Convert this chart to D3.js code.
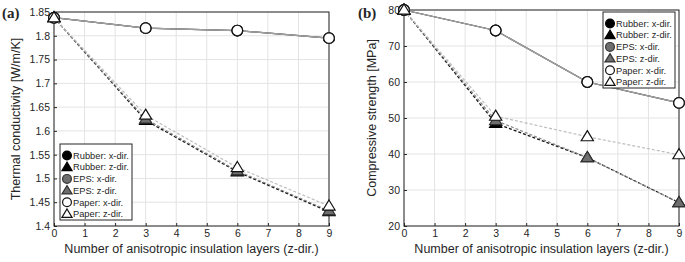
<!DOCTYPE html>
<html><head><meta charset="utf-8">
<script src="https://cdn.jsdelivr.net/npm/d3@7"></script>
<style>body{margin:0;background:#fff}svg{display:block}text{font-family:"Liberation Sans",Arial,sans-serif;fill:#262626}</style>
</head><body><svg id="c" width="685" height="262"></svg>
<script>
const layers = [0, 3, 6, 9];
const seriesNames = ["Rubber: x-dir.", "Rubber: z-dir.", "EPS: x-dir.", "EPS: z-dir.", "Paper: x-dir.", "Paper: z-dir."];
// (a) thermal conductivity [W/m/K]
const tcRubberX = [1.838, 1.816, 1.811, 1.795];
const tcRubberZ = [1.838, 1.622, 1.514, 1.430];
const tcEpsX    = [1.838, 1.816, 1.811, 1.795];
const tcEpsZ    = [1.838, 1.625, 1.516, 1.432];
const tcPaperX  = [1.838, 1.816, 1.811, 1.795];
const tcPaperZ  = [1.838, 1.633, 1.523, 1.442];
// (b) compressive strength [MPa]
const csRubberX = [80, 74.3, 60, 54.2];
const csRubberZ = [80, 48.5, 39, 26.5];
const csEpsX    = [80, 74.3, 60, 54.2];
const csEpsZ    = [80, 49.3, 39, 26.5];
const csPaperX  = [80, 74.3, 60, 54.2];
const csPaperZ  = [80, 50.5, 44.8, 39.8];
const xTicks = [0,1,2,3,4,5,6,7,8,9];
const tcTicks = [1.4,1.45,1.5,1.55,1.6,1.65,1.7,1.75,1.8,1.85];
const csTicks = [20,30,40,50,60,70,80];

const styles = [
  {shape:"circle", fill:"#000", stroke:"#000", line:"#444", dash:null},
  {shape:"tri", fill:"#000", stroke:"#000", line:"#111", dash:"3,2"},
  {shape:"circle", fill:"#6e6e6e", stroke:"#333", line:"#777", dash:null},
  {shape:"tri", fill:"#6e6e6e", stroke:"#333", line:"#888", dash:"3,2"},
  {shape:"circle", fill:"#fff", stroke:"#111", line:"#a0a0a0", dash:null},
  {shape:"tri", fill:"#fff", stroke:"#111", line:"#bdbdbd", dash:"3,2"}
];
const svg = d3.select("#c");
const axCol = "#262626";

function marker(g, shape, cx, cy, st, r){
  if(shape==="circle"){
    g.append("circle").attr("cx",cx).attr("cy",cy).attr("r",r)
     .attr("fill",st.fill).attr("stroke",st.stroke).attr("stroke-width",1.2);
  } else {
    const h=r*1.9, w=r*1.15;
    g.append("path").attr("d",`M${cx},${cy-h*0.6}L${cx+w},${cy+h*0.4}L${cx-w},${cy+h*0.4}Z`)
     .attr("fill",st.fill).attr("stroke",st.stroke).attr("stroke-width",1.2);
  }
}

function panel(opt){
  const g = svg.append("g");
  const x = d3.scaleLinear().domain([0,9]).range([opt.x0, opt.x1]);
  const y = d3.scaleLinear().domain(opt.yDom).range([opt.yb, opt.yt]);
  // grid
  g.append("g").selectAll("line").data(xTicks).join("line")
    .attr("x1",d=>x(d)).attr("x2",d=>x(d)).attr("y1",opt.yt).attr("y2",opt.yb)
    .attr("stroke","#e3e3e3").attr("stroke-width",1);
  g.append("g").selectAll("line").data(opt.yTicks).join("line")
    .attr("y1",d=>y(d)).attr("y2",d=>y(d)).attr("x1",opt.x0).attr("x2",opt.x1)
    .attr("stroke","#e3e3e3").attr("stroke-width",1);
  // axes
  const ax = d3.axisBottom(x).tickValues(xTicks).tickSize(-3).tickPadding(5).tickFormat(d3.format("d"));
  const xa = g.append("g").attr("transform",`translate(0,${opt.yb})`).call(ax);
  const ay = d3.axisLeft(y).tickValues(opt.yTicks).tickSize(-3).tickPadding(4).tickFormat(opt.fmt);
  const ya = g.append("g").attr("transform",`translate(${opt.x0},0)`).call(ay);
  [xa,ya].forEach(a=>{
    a.select(".domain").remove();
    a.selectAll("line").attr("stroke",axCol);
    a.selectAll("text").attr("font-size","10.5px").attr("fill",axCol).style("font-family","Liberation Sans, Arial, sans-serif");
  });
  xa.selectAll("text").attr("dy","0.6em");
  g.append("rect").attr("x",opt.x0).attr("y",opt.yt).attr("width",opt.x1-opt.x0).attr("height",opt.yb-opt.yt)
    .attr("fill","none").attr("stroke",axCol).attr("stroke-width",1);
  // lines
  const line = d3.line().x((d,i)=>x(layers[i])).y(d=>y(d));
  opt.series.forEach((s,i)=>{
    g.append("path").attr("d",line(s)).attr("fill","none").attr("stroke",styles[i].line)
      .attr("stroke-width",1.2).attr("stroke-dasharray",styles[i].dash);
  });
  opt.series.forEach((s,i)=>{
    s.forEach((v,j)=>marker(g, styles[i].shape, x(layers[j]), y(v), styles[i], 5.3));
  });
  // titles
  g.append("text").attr("x",(opt.x0+opt.x1)/2).attr("y",252.5).attr("text-anchor","middle")
    .attr("font-size","12.5px").text("Number of anisotropic insulation layers (z-dir.)");
  g.append("text").attr("transform",`translate(${opt.ytx},${(opt.yt+opt.yb)/2}) rotate(-90)`)
    .attr("text-anchor","middle").attr("font-size","12.5px").text(opt.ytitle);
  g.append("text").attr("x",opt.lx).attr("y",18).attr("font-size","15px").attr("font-weight","bold")
    .style("font-family","Liberation Serif, Times New Roman, serif").text(opt.label);
  // legend
  const lg = g.append("g");
  lg.append("rect").attr("x",opt.legX).attr("y",opt.legY).attr("width",72).attr("height",76)
    .attr("fill","#fff").attr("stroke",axCol).attr("stroke-width",1);
  seriesNames.forEach((n,i)=>{
    const cy = opt.legY + 11.5 + i*11.7;
    marker(lg, styles[i].shape, opt.legX+7, cy, styles[i], 4.4);
    lg.append("text").attr("x",opt.legX+13).attr("y",cy).attr("dy","0.35em")
      .attr("font-size","9.3px").text(n);
  });
}

panel({x0:54, x1:329, yt:12, yb:226, yDom:[1.4,1.85], yTicks:tcTicks, fmt:d=>String(d),
  series:[tcRubberX,tcRubberZ,tcEpsX,tcEpsZ,tcPaperX,tcPaperZ],
  ytitle:"Thermal conductivity [W/m/K]", ytx:20, label:"(a)", lx:2, legX:60, legY:144});
panel({x0:404, x1:679, yt:10, yb:226, yDom:[20,80], yTicks:csTicks, fmt:d3.format("d"),
  series:[csRubberX,csRubberZ,csEpsX,csEpsZ,csPaperX,csPaperZ],
  ytitle:"Compressive strength [MPa]", ytx:376, label:"(b)", lx:358, legX:603, legY:12});
</script></body></html>
